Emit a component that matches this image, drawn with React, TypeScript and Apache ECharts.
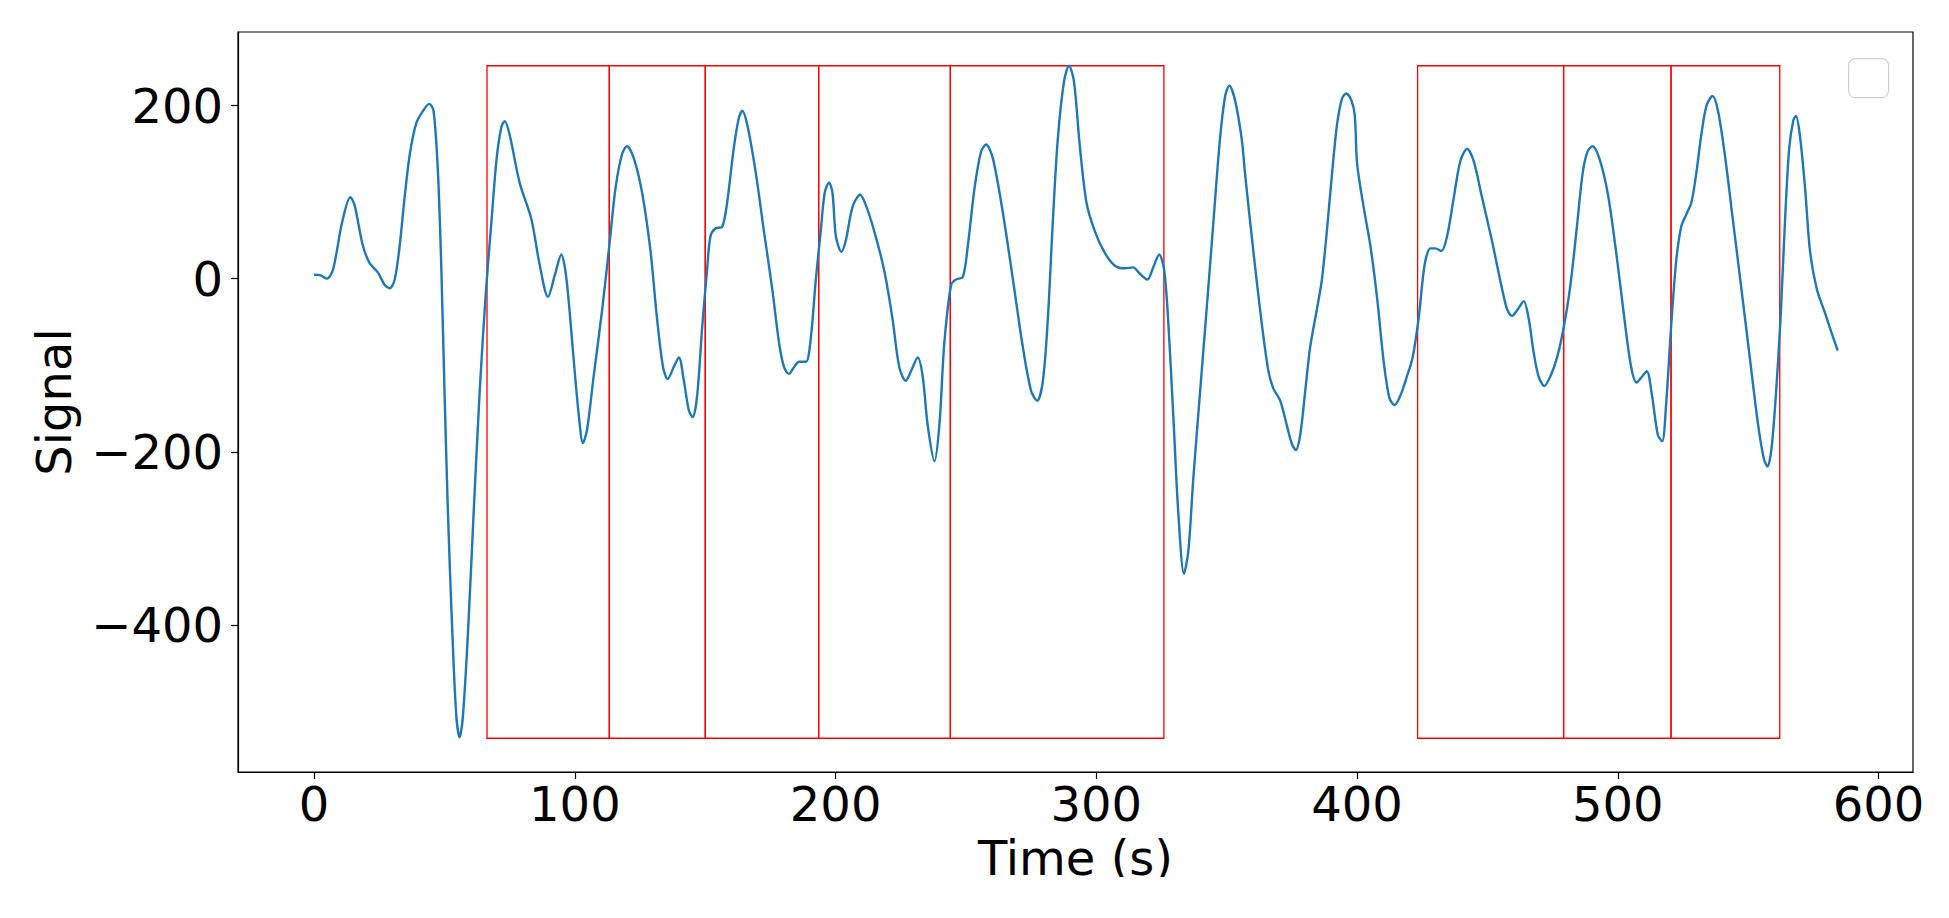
import React, { useEffect, useRef } from "react";
import * as echarts from "echarts";

// Signal samples (time in s, signal value)
const timeS = [
  0, 2.3, 4.9, 7.2, 10.8, 13.9, 15.5, 18.7, 21.3, 24.5, 27, 29, 30.9, 32.8, 34.7, 36.7, 39.2, 41.8, 44.1, 45.8,
  47.5, 48.8, 50, 51.3, 53, 54.5, 55.8, 57.1, 59, 61.2, 63.5, 65.8, 68, 70, 71.8, 73.1, 75, 78.8, 83.3, 86.5,
  89.7, 92.3, 94.8, 96.8, 99.3, 101.5, 103.1, 104.7, 107.2, 110.5, 113.2, 115.6, 118.1, 120, 122.6, 125.8, 129, 131.5, 133.8, 135.6,
  137.9, 139.9, 141.8, 143.7, 145.2, 146.9, 148.8, 150.7, 152, 153.9, 156.5, 158.4, 160.9, 162.9, 164.2, 166.1, 169.4, 172.5, 175.7, 178.3,
  180.2, 182.1, 184.1, 186, 188.6, 190.5, 192.4, 194.3, 195.8, 197.5, 198.8, 200.1, 202.2, 203.9, 206.5, 209.4, 211.6, 214.8, 218.6, 221.8,
  224.4, 226.9, 228.9, 231.5, 233.4, 235.3, 237.9, 239.8, 241.7, 244.3, 246.2, 248.8, 250.7, 253.3, 255.8, 257.7, 260.3, 264.1, 268, 271.8,
  275, 277.3, 279.5, 281.4, 283.3, 285.2, 287.6, 289.5, 291.4, 293.6, 296.2, 299.4, 303.2, 307.1, 310.9, 314.1, 316.6, 319.6, 321.8, 324.1,
  326, 327.5, 329.5, 331.4, 333.6, 335.3, 337.2, 339.8, 342.3, 344.9, 347.4, 349.4, 351, 353.2, 355.8, 357, 360.2, 363.4, 366, 367.9,
  370.5, 373, 375, 376.5, 378.2, 380.1, 382, 384.6, 386.5, 388.4, 390.4, 392.3, 394.2, 395.9, 397.8, 399.1, 400, 402.5, 405.1, 407.7,
  410.2, 412.4, 414.4, 416.6, 419.1, 421.3, 423.6, 425.9, 428.1, 430, 432.3, 434.5, 437.1, 439.6, 442.2, 444.7, 447.9, 451.7, 455.6, 457.5,
  459.4, 461.7, 463.9, 465.8, 467.7, 469.6, 471.8, 474.1, 476.7, 479.2, 481.7, 484.3, 486.5, 488.4, 490.3, 492.9, 496.1, 499.3, 502.5, 505.1,
  507.2, 509.3, 511.1, 513.1, 515.3, 517, 518.5, 520.4, 522.4, 524.3, 526.2, 528.2, 530.1, 532, 534, 536.3, 538.4, 541, 544.2, 547.4,
  550.6, 553.8, 556, 557.4, 558.9, 560.6, 562.4, 564.1, 565.7, 567.3, 568.3, 569.8, 571.8, 573.7, 576.3, 579.5, 582, 584.3,
];
const signal = [
  4.5, 4, 0, 10, 66, 94, 85, 38, 18, 7, -7, -11, -1, 38, 94, 144, 180, 194, 202, 194,
  122, 10, -130, -269, -409, -504, -530, -504, -409, -269, -130, -18, 66, 139, 175, 182, 166, 111, 69, 16,
  -21, 4, 28, -1, -85, -158, -190, -174, -113, -35, 38, 105, 144, 153, 139, 99, 32, -46, -102, -116,
  -102, -91, -118, -152, -160, -135, -57, 10, 49, 58, 60, 88, 150, 186, 194, 178, 122, 55, -12, -74,
  -102, -110, -102, -96, -96, -68, -1, 55, 99, 111, 99, 49, 31, 44, 83, 97, 85, 55, 10, -46,
  -102, -118, -107, -91, -113, -169, -211, -169, -74, -7, -1, 2, 38, 105, 147, 155, 139, 77, -1, -79,
  -130, -141, -118, -46, 66, 161, 228, 246, 228, 155, 88, 55, 30, 15, 12, 13, 6, -1, 13, 28,
  10, -46, -158, -269, -341, -314, -230, -130, -35, 66, 161, 211, 223, 206, 160, 122, 32, -51, -107, -127,
  -141, -169, -191, -198, -180, -130, -79, -35, -1, 55, 122, 178, 208, 214, 206, 189, 133, 83, 38, -23,
  -96, -138, -146, -135, -113, -91, -46, 16, 35, 35, 32, 49, 94, 136, 150, 136, 94, 44, -12, -35,
  -43, -35, -26, -46, -85, -113, -124, -113, -91, -57, -10, 60, 122, 147, 153, 139, 99, 32, -46, -102,
  -120, -113, -107, -135, -180, -188, -146, -57, 21, 60, 74, 88, 122, 166, 200, 211, 194, 144, 66, -12,
  -91, -169, -208, -217, -197, -135, -46, 66, 150, 183, 188, 166, 105, 32, -12, -40, -63, -83,
];

// Red segment boxes (start / end time in s), spanning the signal's min..max
const boxStarts = [66.3, 113.2, 150.0, 193.5, 244.0, 423.2, 479.2, 520.4];
const boxEnds = [113.2, 150.0, 193.5, 244.0, 325.9, 479.2, 520.4, 562.1];
const boxBottom = -531;
const boxTop = 246;

// Axis ranges and tick labels
const xTicks = [0, 100, 200, 300, 400, 500, 600];
const yTicks = [-400, -200, 0, 200];
const xRange = [-29.2, 613.2];
const yRange = [-570, 285];

const FONT = "DejaVu Sans";
const fmt = (v: number) => String(v).replace("-", "\u2212");

export default function App() {
  const ref = useRef<HTMLDivElement>(null);
  useEffect(() => {
    const chart = echarts.init(ref.current!, null, { renderer: "svg" });
    chart.setOption({
      animation: false,
      backgroundColor: "#ffffff",
      grid: {
        left: 238,
        right: 36,
        top: 32,
        bottom: 146,
        show: true,
        borderColor: "#000",
        borderWidth: 1.2,
        backgroundColor: "transparent",
      },
      xAxis: {
        type: "value",
        min: xRange[0],
        max: xRange[1],
        name: "Time (s)",
        nameLocation: "middle",
        nameGap: 62,
        nameTextStyle: { fontFamily: FONT, fontSize: 48, color: "#000" },
        axisLine: { show: true, onZero: false, lineStyle: { color: "#000", width: 1.2 } },
        axisTick: { show: true, customValues: xTicks, length: 7, lineStyle: { color: "#000", width: 1.2 } },
        axisLabel: { customValues: xTicks, fontFamily: FONT, fontSize: 48, color: "#000", margin: 8, formatter: fmt },
        splitLine: { show: false },
      },
      yAxis: {
        type: "value",
        min: yRange[0],
        max: yRange[1],
        name: "Signal",
        nameLocation: "middle",
        nameGap: 160,
        nameTextStyle: { fontFamily: FONT, fontSize: 48, color: "#000" },
        axisLine: { show: true, onZero: false, lineStyle: { color: "#000", width: 1.2 } },
        axisTick: { show: true, customValues: yTicks, length: 7, lineStyle: { color: "#000", width: 1.2 } },
        axisLabel: { customValues: yTicks, fontFamily: FONT, fontSize: 48, color: "#000", margin: 15, formatter: fmt },
        splitLine: { show: false },
      },
      series: [
        {
          type: "line",
          data: timeS.map((t, i) => [t, signal[i]]),
          showSymbol: false,
          smooth: 0.3,
          lineStyle: { color: "#1f77b4", width: 2.4 },
          markArea: {
            silent: true,
            itemStyle: { color: "rgba(0,0,0,0)", borderColor: "#ff0000", borderWidth: 1.3 },
            data: boxStarts.map((s, i) => [
              { xAxis: s, yAxis: boxBottom },
              { xAxis: boxEnds[i], yAxis: boxTop },
            ]),
          },
        },
      ],
      graphic: [
        {
          type: "rect",
          left: 1848,
          top: 58,
          shape: { width: 40, height: 39, r: 7 },
          style: { fill: "#fff", stroke: "#d0d0d0", lineWidth: 1.2 },
          z: 10,
        },
        {
          // the reference figure is cropped just below the x-axis title's baseline
          type: "rect",
          left: 0,
          top: 877,
          shape: { width: 1949, height: 41 },
          style: { fill: "#fff" },
          z: 100,
        },
      ],
    });
    return () => chart.dispose();
  }, []);
  return (
    <div
      ref={ref}
      style={{ position: "fixed", left: 0, top: 0, width: "1949px", height: "918px" }}
    />
  );
}
